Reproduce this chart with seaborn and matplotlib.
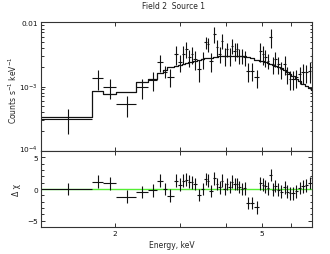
import numpy as np
import matplotlib
matplotlib.use("Agg")
import matplotlib.pyplot as plt
import matplotlib.ticker as mticker
import matplotlib.transforms as mtransforms
import seaborn as sns

# === DATA ===
# bin edges in keV
energy_edges = [1.248, 1.740, 1.859, 2.021, 2.290, 2.463, 2.606, 2.694, 2.773,
                2.888, 2.974, 3.043, 3.097, 3.155, 3.212, 3.262, 3.341, 3.422, 3.494,
                3.556, 3.605, 3.681, 3.758, 3.817, 3.873, 3.934, 4.000, 4.063, 4.127,
                4.192, 4.253, 4.320, 4.388, 4.457, 4.542, 4.637, 4.775, 4.916, 5.004,
                5.078, 5.158, 5.243, 5.325, 5.406, 5.491, 5.595, 5.712, 5.820, 5.911,
                6.017, 6.144, 6.273, 6.405, 6.541, 6.678, 6.805, 6.918]

# counts s^-1 keV^-1 (x 1e-3)
counts = [0.312, 1.36, 0.97, 0.53, 0.97, 1.25, 2.38, 1.70,
          1.42, 3.21, 2.38, 3.25, 3.84, 2.85, 3.21, 2.69, 1.88, 2.69,
          4.88, 4.60, 2.53, 6.58, 4.08, 3.21, 5.18, 3.03, 3.84, 3.03,
          4.33, 3.62, 3.84, 3.03, 3.03, 2.85, 1.77, 1.77, 1.39, 3.62,
          3.21, 2.85, 2.53, 5.83, 2.24, 2.69, 2.24, 1.88, 2.24, 1.57,
          1.31, 1.31, 1.39, 1.57, 1.66, 1.66, 1.77, 2.38]

counts_err = [0.13, 0.47, 0.33, 0.19, 0.33, 0.41, 0.72, 0.35,
              0.45, 1.05, 0.72, 0.97, 1.10, 0.87, 0.97, 0.87, 0.69, 0.81,
              1.10, 1.10, 0.82, 1.90, 1.17, 0.85, 1.37, 0.98, 1.00, 0.92,
              1.15, 1.10, 1.00, 0.80, 0.80, 0.75, 0.58, 0.55, 0.45, 1.17,
              1.05, 0.87, 0.67, 1.90, 0.68, 0.71, 0.68, 0.57, 0.73, 0.47,
              0.43, 0.43, 0.45, 0.47, 0.57, 0.54, 0.65, 1.00]

model = [0.330, 0.841, 0.764, 0.810, 1.16, 1.31, 1.62, 1.83,
         1.99, 2.09, 2.19, 2.24, 2.30, 2.38, 2.44, 2.50, 2.62, 2.69,
         2.75, 2.78, 2.83, 2.88, 2.91, 2.95, 2.97, 2.99, 3.01, 3.03,
         3.03, 3.03, 3.01, 2.99, 2.97, 2.95, 2.88, 2.78, 2.62, 2.53,
         2.47, 2.41, 2.32, 2.24, 2.19, 2.11, 2.04, 1.92, 1.79, 1.68,
         1.59, 1.44, 1.31, 1.21, 1.11, 1.02, 0.948, 0.881]

# residuals, delta chi
resid = [0.0, 1.16, 0.9, -1.2, -0.5, -0.2, 1.3, 0.0,
         -1.05, 1.3, 0.7, 1.3, 1.5, 1.16, 1.05, 0.8, -0.95, 0.0,
         1.6, 1.3, -0.3, 1.7, 0.8, 0.26, 1.3, 0.0, 0.8, 0.3,
         1.16, 0.8, 0.8, 0.3, 0.0, 0.1, -2.2, -2.2, -2.9, 0.9,
         0.7, 0.4, 0.1, 2.2, -0.1, 0.5, -0.1, -0.4, 0.25, -0.4,
         -0.7, -0.7, -0.35, 0.15, 0.4, 0.6, 0.95, 1.8]

x_ticks = [2, 3, 4, 5, 6]
x_tick_labels = ["2", "", "", "5", ""]

# === derived arrays ===
edges = np.array(energy_edges)
e_mid = 0.5 * (edges[:-1] + edges[1:])
e_hw = 0.5 * (edges[1:] - edges[:-1])
cts = np.array(counts) * 1e-3
cts_err = np.array(counts_err) * 1e-3
mod = np.array(model) * 1e-3
res = np.array(resid)

# === PLOT ===
sns.set_style("ticks")
plt.rcParams["font.family"] = ["DejaVu Sans"]
plt.rcParams["mathtext.fontset"] = "dejavusans"

fig = plt.figure(figsize=(3.3, 2.55), dpi=100)
ax1 = fig.add_axes([0.1233, 0.4051, 0.8212, 0.5035])
ax2 = fig.add_axes([0.1233, 0.1047, 0.8212, 0.3004], sharex=ax1)

ink = "#111111"

# top panel: data + folded model
ax1.errorbar(e_mid, cts, xerr=e_hw, yerr=cts_err, fmt="none",
             ecolor=ink, elinewidth=0.8, capsize=0)
sns.lineplot(x=edges, y=np.append(mod, mod[-1]), ax=ax1, drawstyle="steps-post",
             estimator=None, sort=False, color=ink, linewidth=0.9)
ax1.set_xscale("log")
ax1.set_yscale("log")
ax1.set_xlim(1.26, 6.83)
ax1.set_ylim(1e-4, 1e-2)
ax1.yaxis.set_major_locator(mticker.FixedLocator([1e-4, 1e-3, 1e-2]))
ax1.yaxis.set_major_formatter(mticker.FixedFormatter(["$10^{-4}$", "$10^{-3}$", "0.01"]))
ax1.yaxis.set_minor_locator(mticker.LogLocator(base=10, subs=np.arange(2, 10)))
ax1.yaxis.set_minor_formatter(mticker.NullFormatter())

# bottom panel: residuals
ax2.axhline(0, color="#55ee33", linewidth=1.0, zorder=1)
ax2.errorbar(e_mid, res, xerr=e_hw, yerr=np.ones_like(res), fmt="none",
             ecolor=ink, elinewidth=0.8, capsize=0, zorder=2)
ax2.set_ylim(-6.05, 6.05)
ax2.yaxis.set_major_locator(mticker.FixedLocator([-5, 0, 5]))
ax2.yaxis.set_minor_locator(mticker.MultipleLocator(1))

for ax in (ax1, ax2):
    ax.xaxis.set_major_locator(mticker.FixedLocator(x_ticks))
    ax.xaxis.set_major_formatter(mticker.FixedFormatter(x_tick_labels))
    ax.xaxis.set_minor_locator(mticker.NullLocator())
    ax.tick_params(which="both", direction="in", top=True, right=True,
                   colors=ink, labelsize=5.3, width=0.6, pad=2)
    ax.tick_params(which="major", length=3)
    ax.tick_params(which="minor", length=1.8)
    for s in ax.spines.values():
        s.set_linewidth(0.8)
        s.set_color("#333333")
    ax.set_xlabel("")
    ax.set_ylabel("")

ax1.tick_params(axis="x", labelbottom=False)

# lift the 10^-4 label a little so it sits clear of the "5" below it
fig.canvas.draw()
lift = mtransforms.ScaledTranslation(0, 2 / 72, fig.dpi_scale_trans)
for lab in ax1.get_yticklabels():
    if "-4" in lab.get_text():
        lab.set_transform(lab.get_transform() + lift)

fig.text(0.526, 0.974, "Field 2  Source 1", ha="center", va="center", fontsize=5.5)
fig.text(0.038, 0.647, "Counts s$^{-1}$ keV$^{-1}$", rotation=90,
         ha="center", va="center", fontsize=5.5)
fig.text(0.05, 0.255, "\u0394 \u03c7", rotation=90, ha="center", va="center", fontsize=5.5)
fig.text(0.521, 0.039, "Energy, keV", ha="center", va="center", fontsize=5.5)

fig.savefig("out.png", dpi=100)
